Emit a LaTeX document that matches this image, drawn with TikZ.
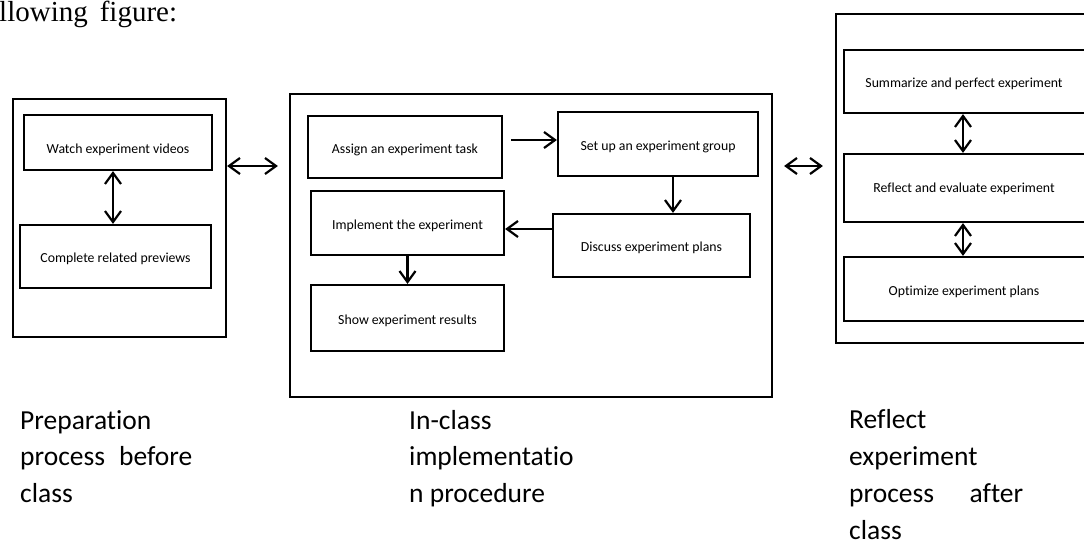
\documentclass[tikz,border=0pt]{standalone}
\usepackage{fontspec}
\setmainfont{Carlito}[Ligatures=NoCommon]
\newfontfamily\headfont{Liberation Serif}
\usetikzlibrary{arrows.meta,positioning,calc}
\tikzset{
  pane/.style={draw,line width=2.2pt,inner sep=0pt},
  sbox/.style={draw,line width=2.2pt,inner sep=0pt,text height=15pt,text depth=3pt,font=\fontsize{13.8}{16}\selectfont},
  rbox/.style={sbox,minimum width=286pt,execute at end node={\hspace*{46pt}}},
  arr/.style={-{Straight Barb[length=11pt,width=16pt]},line width=2.2pt},
  darr/.style={{Straight Barb[length=11pt,width=16pt]}-{Straight Barb[length=11pt,width=16pt]},line width=2.2pt},
  capt/.style={anchor=base west,align=left,inner sep=0pt,font=\fontsize{27.5}{36.7}\selectfont},
}
\begin{document}
\begin{tikzpicture}[x=1pt,y=-1pt]
  \useasboundingbox (0,0) rectangle (1084,551);
  \clip (0,0) rectangle (1084,551);
  \node[anchor=base west,inner sep=0pt,font=\headfont\fontsize{29}{30}\selectfont] (head) at (-1,22) {llowing\hspace*{12pt}figure:};
  % before class
  \node[pane,minimum width=213pt,minimum height=238pt] (before) at (119.5,218) {};
  \node[sbox,text height=25pt,minimum width=188pt,minimum height=55pt] (watch) at (118,142.5) {Watch experiment videos};
  \node[sbox,minimum width=191pt,minimum height=63pt] (previews) at (115.5,256.5) {Complete related previews};
  % in class
  \node[pane,minimum width=482pt,minimum height=303pt] (inclass) at (531,245.5) {};
  \node[sbox,minimum width=194pt,minimum height=62pt] (assign) at (405,147) {Assign an experiment task};
  \node[sbox,minimum width=200pt,minimum height=64pt] (group) at (658,144) {Set up an experiment\,group};
  \node[sbox,minimum width=193pt,minimum height=64pt] (implement) at (407.5,223) {Implement the experiment};
  \node[sbox,minimum width=197pt,minimum height=63pt] (discuss) at (651.5,245.5) {Discuss experiment plans};
  \node[sbox,minimum width=193pt,minimum height=66pt] (results) at (407.5,318) {Show experiment results};
  % after class
  \node[pane,minimum width=304pt,minimum height=329pt] (after) at (988,178.5) {};
  \node[rbox,minimum height=63pt] (summarize) at (987,81.5) {Summarize and perfect experiment};
  \node[rbox,text height=12pt,minimum height=68pt] (evaluate) at (987,188) {Reflect and evaluate experiment};
  \node[rbox,minimum height=64pt] (optimize) at (987,289) {Optimize experiment plans};
  % connectors
  \draw[darr] ([xshift=-5pt]watch.south) -- ([xshift=-5pt]watch.south |- previews.north);
  \draw[darr,shorten >=11pt] ([yshift=52pt]before.east) -- ([yshift=52pt]before.east -| inclass.west);
  \draw[darr,shorten <=11pt,shorten >=12pt] ([yshift=79.5pt]inclass.east) -- ([yshift=79.5pt]inclass.east -| after.west);
  \draw[arr,shorten <=8pt] ([yshift=7pt]assign.east) -- ([yshift=7pt]assign.east -| group.west);
  \draw[arr] ([xshift=15pt]group.south) -- ([xshift=15pt]group.south |- discuss.north);
  \draw[arr] ([yshift=16.5pt]discuss.west) -- ([yshift=16.5pt]discuss.west -| implement.east);
  \draw[arr] (implement.south) -- (results.north);
  \draw[darr] ([xshift=-24pt]summarize.south) -- ([xshift=-24pt]summarize.south |- evaluate.north);
  \draw[darr] ([xshift=-24pt]evaluate.south) -- ([xshift=-24pt]evaluate.south |- optimize.north);
  % captions (base = last line)
  \node[capt] (prep) at (20,502.4) {Preparation\\\makebox[172pt][s]{process before}\\class};
  \node[capt] (impl) at (409,502.4) {In-class\\implementatio\\n procedure};
  \node[capt] (refl) at (849,539) {Reflect\\experiment\\\makebox[174pt][s]{process after}\\class};
\end{tikzpicture}
\end{document}
